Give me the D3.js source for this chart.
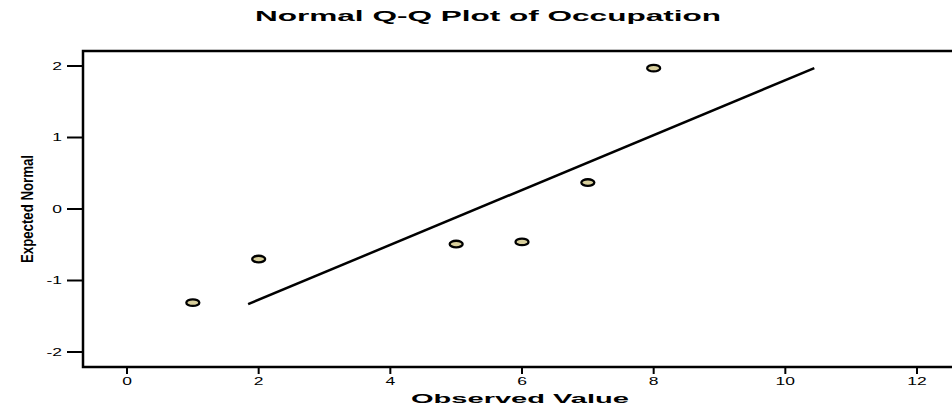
<!DOCTYPE html>
<html><head><meta charset="utf-8">
<script src="https://cdn.jsdelivr.net/npm/d3@7"></script>
<style>body{margin:0;background:#fff}svg{display:block}text{font-family:"Liberation Sans",Arial,sans-serif;fill:#000}</style>
</head><body><svg id="c" width="952" height="409"></svg>
<script>
const observed = [1, 2, 5, 6, 7, 8];
const expectedNormal = [-1.31, -0.70, -0.49, -0.46, 0.37, 1.97];
const lineX = [1.84, 10.44];
const lineY = [-1.33, 1.97];
const xTicks = [0, 2, 4, 6, 8, 10, 12];
const yTicks = [-2, -1, 0, 1, 2];
const title = "Normal Q-Q Plot of Occupation";
const xTitle = "Observed Value";
const yTitle = "Expected Normal";

const frame = {left: 83, top: 51, right: 958, bottom: 367};
const svg = d3.select("#c");
const x = d3.scaleLinear().domain([0, 12]).range([127, 917]);
const y = d3.scaleLinear().domain([-2, 2]).range([352, 66]);

svg.append("rect").attr("x", frame.left).attr("y", frame.top)
  .attr("width", frame.right - frame.left).attr("height", frame.bottom - frame.top)
  .attr("fill", "none").attr("stroke", "#000").attr("stroke-width", 2.5);

const xg = svg.append("g");
xTicks.forEach(t => {
  xg.append("line").attr("x1", x(t)).attr("x2", x(t)).attr("y1", frame.bottom).attr("y2", frame.bottom + 7)
    .attr("stroke", "#000").attr("stroke-width", 2);
  xg.append("text").attr("transform", `translate(${x(t)},385) scale(1.75,1)`)
    .attr("text-anchor", "middle").attr("font-size", 10).text(String(t));
});
const yg = svg.append("g");
yTicks.forEach(t => {
  yg.append("line").attr("x1", frame.left - 16).attr("x2", frame.left).attr("y1", y(t)).attr("y2", y(t))
    .attr("stroke", "#000").attr("stroke-width", 2);
  yg.append("text").attr("transform", `translate(62,${y(t) + 3.5}) scale(1.75,1)`)
    .attr("text-anchor", "end").attr("font-size", 10).text(String(t));
});

svg.append("text").attr("x", 488).attr("y", 21).attr("text-anchor", "middle")
  .attr("font-size", 14.5).attr("font-weight", "bold")
  .attr("textLength", 466).attr("lengthAdjust", "spacingAndGlyphs").text(title);
svg.append("text").attr("x", 520).attr("y", 403).attr("text-anchor", "middle")
  .attr("font-size", 13.5).attr("font-weight", "bold")
  .attr("textLength", 218).attr("lengthAdjust", "spacingAndGlyphs").text(xTitle);
svg.append("text").attr("transform", `translate(33,209) rotate(-90)`).attr("text-anchor", "middle")
  .attr("font-size", 17).attr("font-weight", "bold")
  .attr("textLength", 108).attr("lengthAdjust", "spacingAndGlyphs").text(yTitle);

svg.append("path").datum(lineX.map((v, i) => [v, lineY[i]]))
  .attr("d", d3.line().x(d => x(d[0])).y(d => y(d[1])))
  .attr("stroke", "#000").attr("stroke-width", 2.5).attr("fill", "none");

svg.append("g").selectAll("ellipse").data(observed.map((v, i) => [v, expectedNormal[i]]))
  .join("ellipse").attr("cx", d => x(d[0])).attr("cy", d => y(d[1]))
  .attr("rx", 6.5).attr("ry", 3.3).attr("fill", "#d8cf9c").attr("stroke", "#000").attr("stroke-width", 2.3);
</script></body></html>
